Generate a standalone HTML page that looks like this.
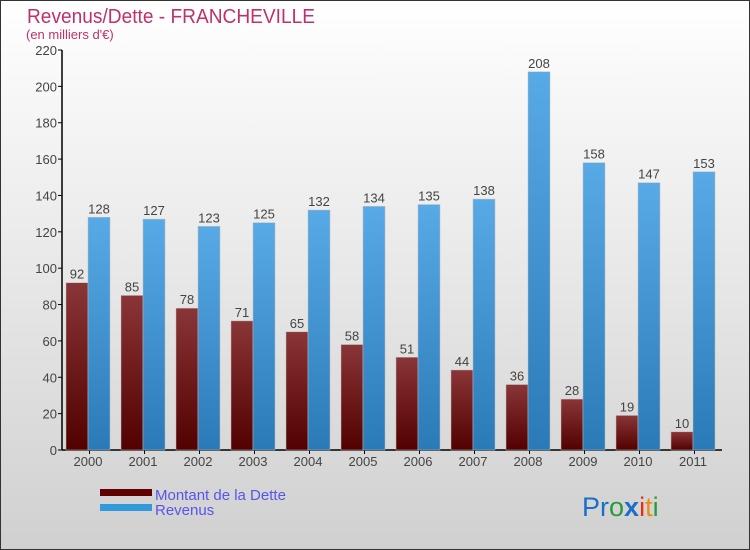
<!DOCTYPE html>
<html><head><meta charset="utf-8"><style>
body{margin:0;width:750px;height:550px;overflow:hidden}
svg{display:block;font-family:"Liberation Sans","DejaVu Sans",sans-serif}
</style></head><body>
<svg id="c" width="750" height="550" viewBox="0 0 750 550">
<defs>
<linearGradient id="bg" x1="0" y1="0" x2="0" y2="1"><stop offset="0" stop-color="#ffffff"/><stop offset="1" stop-color="#d0d0d0"/></linearGradient>
<linearGradient id="gd" x1="0" y1="0" x2="0" y2="1"><stop offset="0" stop-color="#8a3537"/><stop offset="1" stop-color="#520000"/></linearGradient>
<linearGradient id="gr" x1="0" y1="0" x2="0" y2="1"><stop offset="0" stop-color="#58aae6"/><stop offset="1" stop-color="#2a7ab8"/></linearGradient>
</defs>
<rect x="0.5" y="0.5" width="749" height="549" fill="url(#bg)" stroke="#333"/>
<text x="27" y="23" font-size="20" fill="#c0306a" textLength="288" lengthAdjust="spacingAndGlyphs">Revenus/Dette - FRANCHEVILLE</text>
<text x="26" y="39" font-size="13" fill="#c0306a">(en milliers d'€)</text>
<g id="plot"></g>
<g>
<rect x="100" y="489" width="52" height="7" fill="#600000"/>
<text x="155" y="500" font-size="15" fill="#5555ee">Montant de la Dette</text>
<rect x="100" y="504" width="52" height="7" fill="#3399dd"/>
<text x="155" y="515" font-size="15" fill="#5555ee">Revenus</text>
</g>
<text x="582" y="516" font-size="27"><tspan fill="#1a6fc9">Pr</tspan><tspan fill="#2a9a3a">o</tspan><tspan fill="#1a6fc9" font-weight="bold">x</tspan><tspan fill="#e03010">i</tspan><tspan fill="#f08a10">t</tspan><tspan fill="#2a9a3a">i</tspan></text>
</svg>
<script>
const years=["2000","2001","2002","2003","2004","2005","2006","2007","2008","2009","2010","2011"];
const dette=[92,85,78,71,65,58,51,44,36,28,19,10];
const revenus=[128,127,123,125,132,134,135,138,208,158,147,153];
const yTicks=[0,20,40,60,80,100,120,140,160,180,200,220];
const NS="http://www.w3.org/2000/svg";
const g=document.getElementById('plot');
const x0=62,y0=450,yMax=220,ph=400,gw=55;
const y=v=>y0-v/yMax*ph;
function mk(t,a,p){const e=document.createElementNS(NS,t);for(const k in a)e.setAttribute(k,a[k]);(p||g).appendChild(e);return e;}
let ax=mk('line',{x1:x0,y1:y(yMax),x2:x0,y2:y0,stroke:'#000','stroke-width':1.5});


let bx=mk('line',{x1:x0,y1:y0,x2:722,y2:y0,stroke:'#000','stroke-width':1.5});


yTicks.forEach(t=>{
  mk('line',{x1:x0-4,y1:y(t),x2:x0,y2:y(t),stroke:'#000'});
  const tx=mk('text',{x:x0-5,y:y(t)+5,'font-size':13,fill:'#444','text-anchor':'end'});
  tx.textContent=t;
  
  
});
years.forEach((yr,i)=>{
  const gx=x0+i*gw;
  mk('line',{x1:gx+gw/2,y1:y0,x2:gx+gw/2,y2:y0+4,stroke:'#000'});
  const xl=mk('text',{x:gx+26,y:y0+16,'font-size':13,fill:'#444','text-anchor':'middle'});
  xl.textContent=yr;
  
  
  [[dette[i],'url(#gd)',gx+4,'dette'],[revenus[i],'url(#gr)',gx+26,'revenus']].forEach(([v,f,bxp,n])=>{
    const r=mk('rect',{x:bxp,y:y(v),width:22,height:y0-y(v),fill:f,stroke:'#bbb','stroke-width':0.5});
    
    
    const l=mk('text',{x:bxp+11,y:y(v)-4,'font-size':13,fill:'#444','text-anchor':'middle'});
    l.textContent=v;
    
    
  });
});
</script>
</body></html>
